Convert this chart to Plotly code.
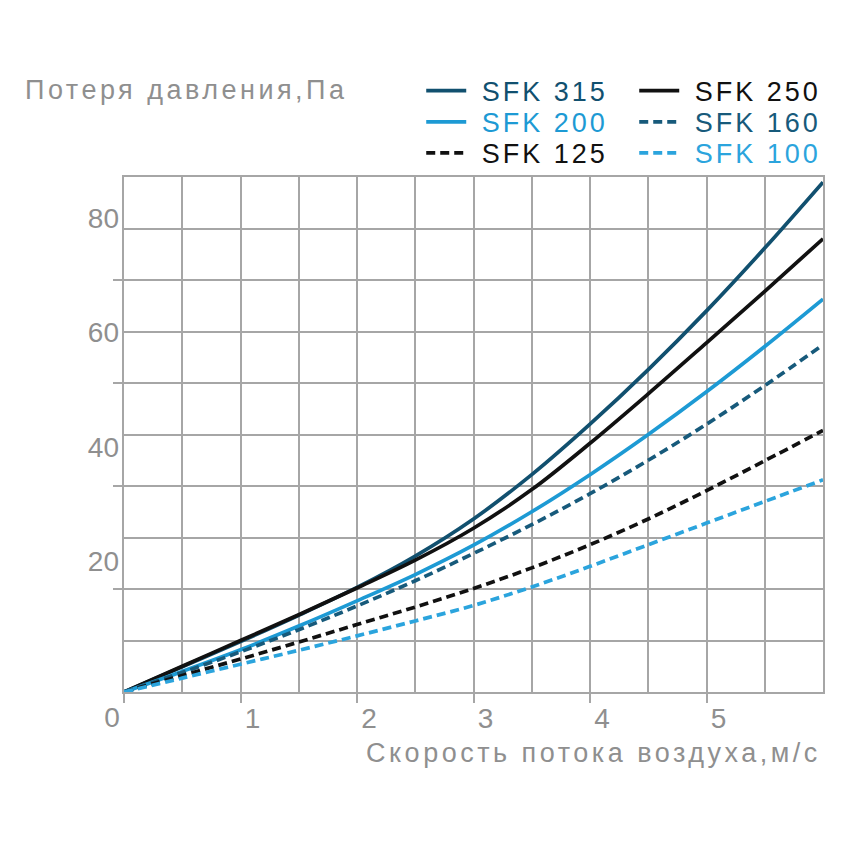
import plotly.graph_objects as go

# ---- data ----
speed = [0, 0.5, 1, 1.5, 2, 2.5, 3, 3.5, 4, 4.5, 5, 5.5, 6]
sfk315 = [0, 4.9, 9.8, 14.9, 20.3, 26.4, 33.6, 42.2, 52.0, 62.6, 74.0, 86.2, 99.0]
sfk250 = [0, 5.0, 10.0, 15.0, 20.2, 25.6, 31.8, 39.3, 48.3, 57.9, 67.8, 77.8, 88.0]
sfk200 = [0, 4.0, 8.2, 12.8, 17.7, 22.8, 28.5, 35.0, 42.2, 50.0, 58.3, 67.1, 76.3]
sfk160 = [0, 3.8, 7.8, 12.1, 16.7, 21.6, 26.9, 32.5, 38.5, 45.0, 52.0, 59.5, 67.4]
sfk125 = [0, 3.2, 6.4, 9.7, 13.1, 16.5, 20.1, 24.1, 28.6, 33.6, 39.1, 44.9, 50.8]
sfk100 = [0, 2.7, 5.4, 8.1, 10.9, 13.8, 16.8, 20.4, 24.4, 28.6, 32.8, 37.0, 41.2]

x_ticks = [0, 1, 2, 3, 4, 5]
x_ticktext = ["", "1", "2", "3", "4", "5"]
x_zero = [0]
x_zero_text = ["0"]
y_ticks = [20, 40, 60, 80]
y_ticktext = ["20", "40", "60", "80"]

title_text = "Потеря давления,Па"
xtitle_text = "Скорость потока воздуха,м/с"

DARK = "#11506f"
DARK_D = "#175a7b"
LIGHT = "#1d9ad4"
LIGHT_D = "#2ba4dd"
BLACK = "#111111"
GRAY = "#8f8f8f"
GRID = "#a6a6a6"
FONT = "Liberation Sans, Arial, sans-serif"


def spaced(text, px):
    return f'<span style="letter-spacing:{px}px">{text}</span>'


series = [
    ("SFK 315", sfk315, DARK, "solid", "legend"),
    ("SFK 250", sfk250, BLACK, "solid", "legend"),
    ("SFK 200", sfk200, LIGHT, "solid", "legend2"),
    ("SFK 160", sfk160, DARK_D, "9px,5px", "legend2"),
    ("SFK 125", sfk125, BLACK, "9px,5px", "legend3"),
    ("SFK 100", sfk100, LIGHT_D, "9px,5px", "legend3"),
]

fig = go.Figure()
for name, vals, col, dash, leg in series:
    fig.add_trace(go.Scatter(
        x=speed, y=vals, mode="lines",
        line=dict(color=col, width=3.7, dash=dash, shape="spline", smoothing=1.0),
        name=f'<span style="color:{col};letter-spacing:3px">&nbsp;{name}</span>',
        legend=leg, hoverinfo="skip",
    ))

# invisible traces carrying the (offset) tick labels of the original
fig.add_trace(go.Scatter(x=[0], y=[0], yaxis="y2", mode="markers",
                         marker=dict(opacity=0), showlegend=False, hoverinfo="skip"))
fig.add_trace(go.Scatter(x=[0], y=[0], xaxis="x2", mode="markers",
                         marker=dict(opacity=0), showlegend=False, hoverinfo="skip"))

leg_common = dict(orientation="h", xanchor="left", yanchor="middle",
                  font=dict(family=FONT, size=27, color=BLACK),
                  bgcolor="rgba(0,0,0,0)", entrywidth=158, itemwidth=40,
                  tracegroupgap=0, x=(421 - 123.6) / 699.4)

tickfont = dict(family=FONT, size=28, color=GRAY)

fig.update_layout(
    width=851, height=851,
    margin=dict(l=124, r=28, t=177, b=159, autoexpand=False),
    paper_bgcolor="white", plot_bgcolor="white",
    font=dict(family=FONT, color=GRAY, size=28),
    title=dict(text=spaced(title_text, 3.5), x=25 / 851, xanchor="left", xref="container",
               y=1 - 90 / 851, yanchor="middle",
               font=dict(family=FONT, size=27, color=GRAY)),
    legend=dict(leg_common, y=1.167),
    legend2=dict(leg_common, y=1.106),
    legend3=dict(leg_common, y=1.046),
    xaxis=dict(
        range=[0, 6], tickvals=x_ticks, ticktext=x_ticktext, ticks="outside",
        ticklen=9, tickwidth=2,
        tickcolor=GRID, showgrid=True, gridcolor=GRID, gridwidth=2,
        minor=dict(dtick=0.5, showgrid=True, gridcolor=GRID, gridwidth=2),
        showline=True, linecolor=GRID, linewidth=2, mirror=True,
        zeroline=False, tickfont=tickfont,
        ticklabelshift=12, ticklabelstandoff=-9,
    ),
    xaxis2=dict(
        overlaying="x", side="bottom", anchor="y", range=[0, 6],
        tickvals=x_zero, ticktext=x_zero_text, ticks="outside", ticklen=9,
        tickcolor="rgba(0,0,0,0)", showgrid=False, zeroline=False, showline=False,
        tickfont=tickfont, ticklabelshift=-12, ticklabelstandoff=-9,
    ),
    yaxis=dict(
        range=[0, 100], tickvals=y_ticks, ticks="outside", ticklen=9, tickwidth=2,
        tickcolor=GRID, showticklabels=False, showgrid=True, gridcolor=GRID, gridwidth=2,
        minor=dict(dtick=10, showgrid=True, gridcolor=GRID, gridwidth=2),
        showline=True, linecolor=GRID, linewidth=2, mirror=True, zeroline=False,
    ),
    yaxis2=dict(
        overlaying="y", side="left", anchor="x", range=[-2.8, 87.2],
        tickvals=y_ticks, ticktext=y_ticktext, showgrid=False, zeroline=False,
        showline=False, ticks="", ticklabelstandoff=4,
        tickfont=tickfont,
    ),
    annotations=[dict(
        text=spaced(xtitle_text, 3.5), xref="paper", yref="paper", x=1.0, y=-0.118,
        xanchor="right", yanchor="middle", showarrow=False,
        font=dict(family=FONT, size=27, color=GRAY),
    )],
)

fig.write_html("out.html")
